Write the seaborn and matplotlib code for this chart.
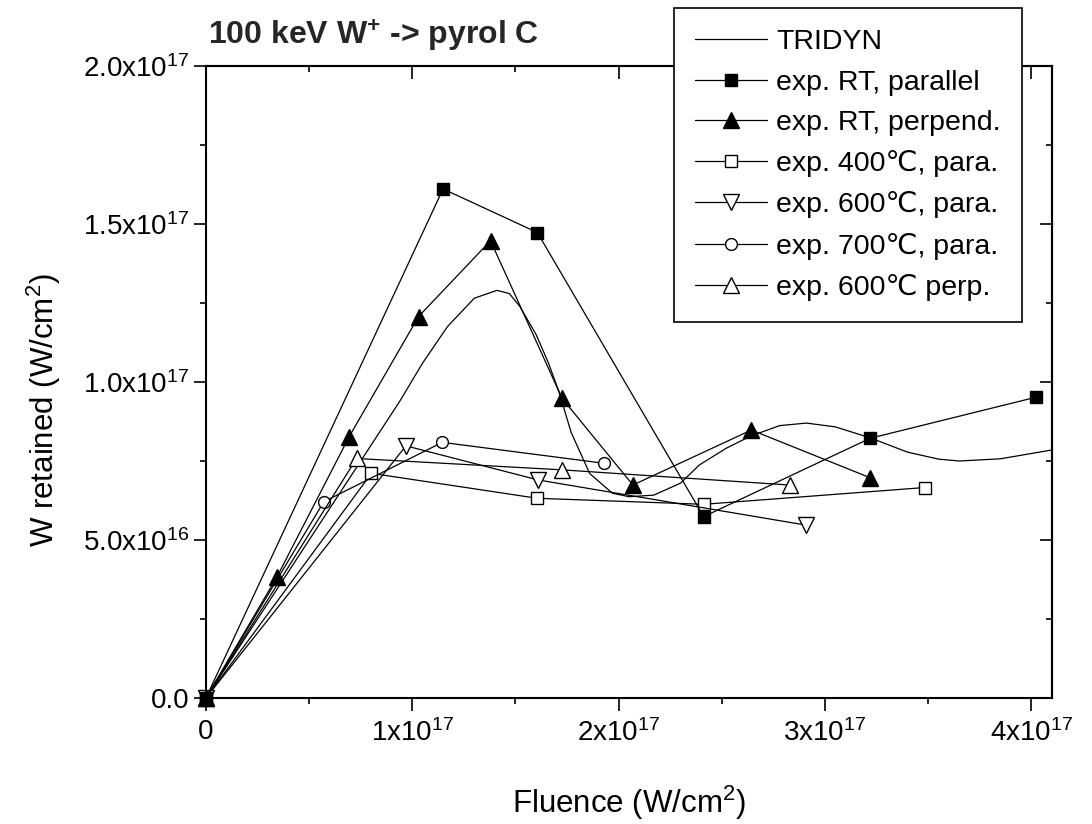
import matplotlib
matplotlib.use("Agg")
import matplotlib.pyplot as plt
import seaborn as sns
from matplotlib.ticker import MultipleLocator

sns.set_theme(style="ticks")
plt.rcParams["font.family"] = ["Liberation Sans", "DejaVu Sans"]
plt.rcParams["mathtext.fontset"] = "custom"
plt.rcParams["mathtext.rm"] = "Liberation Sans"
plt.rcParams["mathtext.bf"] = "Liberation Sans:bold"
plt.rcParams["mathtext.default"] = "regular"

# all values in units of 1e17 W/cm^2
tridyn_fluence = [0, 0.50, 0.94, 1.05, 1.17, 1.30, 1.41, 1.47, 1.52, 1.60, 1.66, 1.71,
                  1.77, 1.86, 1.97, 2.05, 2.17, 2.30, 2.39, 2.52, 2.64, 2.78, 2.91,
                  3.05, 3.22, 3.40, 3.55, 3.65, 3.85, 4.10]
tridyn_retained = [0, 0.50, 0.94, 1.06, 1.175, 1.265, 1.29, 1.28, 1.24, 1.15, 1.06, 0.97,
                   0.84, 0.71, 0.648, 0.637, 0.642, 0.68, 0.737, 0.79, 0.829, 0.862, 0.870,
                   0.858, 0.823, 0.778, 0.756, 0.750, 0.757, 0.785]

rt_par_fluence = [0, 1.149, 1.606, 2.412, 3.219, 4.023]
rt_par_retained = [0, 1.611, 1.473, 0.574, 0.822, 0.952]

rt_perp_fluence = [0, 0.344, 0.694, 1.030, 1.379, 1.726, 2.069, 2.643, 3.219]
rt_perp_retained = [0, 0.383, 0.827, 1.207, 1.447, 0.948, 0.674, 0.848, 0.697]

t400_par_fluence = [0, 0.802, 1.606, 2.412, 3.482]
t400_par_retained = [0, 0.711, 0.632, 0.613, 0.666]

t600_par_fluence = [0, 0.969, 1.610, 2.909]
t600_par_retained = [0, 0.798, 0.690, 0.547]

t700_par_fluence = [0, 0.571, 1.145, 1.927]
t700_par_retained = [0, 0.621, 0.809, 0.743]

t600_perp_fluence = [0, 0.730, 1.726, 2.828]
t600_perp_retained = [0, 0.758, 0.722, 0.674]

x_ticks = [0, 1, 2, 3, 4]
x_tick_labels = ["0", r"$1x10^{17}$", r"$2x10^{17}$", r"$3x10^{17}$", r"$4x10^{17}$"]
y_ticks = [0, 0.5, 1.0, 1.5, 2.0]
y_tick_labels = ["0.0", r"$5.0x10^{16}$", r"$1.0x10^{17}$", r"$1.5x10^{17}$", r"$2.0x10^{17}$"]

fig = plt.figure(figsize=(10.92, 8.24), dpi=100)
ax = fig.add_axes([0.1886, 0.1529, 0.7748, 0.7670])

LINE = dict(color="black", lw=0.9, markeredgecolor="black", markeredgewidth=1.0,
            clip_on=False, sort=False, estimator=None, errorbar=None, ax=ax)

sns.lineplot(x=tridyn_fluence, y=tridyn_retained, label="TRIDYN", zorder=2, **LINE)
sns.lineplot(x=rt_par_fluence, y=rt_par_retained, marker="s", markersize=8,
             markerfacecolor="black", label="exp. RT, parallel", zorder=4, **LINE)
sns.lineplot(x=rt_perp_fluence, y=rt_perp_retained, marker="^", markersize=12,
             markerfacecolor="black", label="exp. RT, perpend.", zorder=3.5, **LINE)
sns.lineplot(x=t400_par_fluence, y=t400_par_retained, marker="s", markersize=8.5,
             markerfacecolor="white", label="exp. 400\u2103, para.", zorder=3, **LINE)
sns.lineplot(x=t600_par_fluence, y=t600_par_retained, marker="v", markersize=12,
             markerfacecolor="white", label="exp. 600\u2103, para.", zorder=3, **LINE)
sns.lineplot(x=t700_par_fluence, y=t700_par_retained, marker="o", markersize=8.5,
             markerfacecolor="white", label="exp. 700\u2103, para.", zorder=3, **LINE)
sns.lineplot(x=t600_perp_fluence, y=t600_perp_retained, marker="^", markersize=12,
             markerfacecolor="white", label="exp. 600\u2103 perp.", zorder=3, **LINE)

ax.set_xlim(0, 4.1)
ax.set_ylim(0, 2.0)

ax.set_xticks(x_ticks, x_tick_labels)
ax.set_yticks(y_ticks, y_tick_labels)
ax.xaxis.set_minor_locator(MultipleLocator(0.5))
ax.yaxis.set_minor_locator(MultipleLocator(0.25))
ax.tick_params(which="both", direction="out", color="black", width=1.2,
               labelsize=20, labelcolor="black")
ax.tick_params(axis="x", which="major", length=9, pad=6)
ax.tick_params(axis="y", which="major", length=9, pad=3)
ax.tick_params(which="minor", length=4.5)
for s in ax.spines.values():
    s.set_linewidth(1.5)
    s.set_color("black")

# inward ticks on top and right
secx = ax.secondary_xaxis("top")
secx.set_xticks(x_ticks)
secx.xaxis.set_minor_locator(MultipleLocator(0.5))
secx.tick_params(which="both", direction="in", labeltop=False, color="black", width=1.2)
secx.tick_params(which="major", length=9)
secx.tick_params(which="minor", length=4.5)
secx.spines["top"].set_linewidth(1.5)
secy = ax.secondary_yaxis("right")
secy.set_yticks(y_ticks)
secy.yaxis.set_minor_locator(MultipleLocator(0.25))
secy.tick_params(which="both", direction="in", labelright=False, color="black", width=1.2)
secy.tick_params(which="major", length=9)
secy.tick_params(which="minor", length=4.5)
secy.spines["right"].set_linewidth(1.5)

ax.set_xlabel(r"Fluence (W/cm$^2$)", fontsize=22.5, color="black")
ax.set_ylabel(r"W retained (W/cm$^2$)", fontsize=22.5, color="black")
ax.xaxis.set_label_coords(0.5, -0.136)
ax.yaxis.set_label_coords(-0.169, 0.455)

fig.text(208 / 1092, 1 - 36 / 824, r"100 keV W$^{\mathbf{+}}$ -> pyrol C",
         fontsize=23, fontweight="bold", ha="left", va="center")

handles, labels = ax.get_legend_handles_labels()
if ax.get_legend() is not None:
    ax.get_legend().remove()
leg = fig.legend(handles, labels, loc="upper left",
                 bbox_to_anchor=(674 / 1092, 1 - 8 / 824), bbox_transform=fig.transFigure,
                 frameon=True, fancybox=False, edgecolor="black", framealpha=1,
                 fontsize=20.5, handlelength=2.5, handletextpad=0.35, labelspacing=0.5,
                 borderpad=0.75, borderaxespad=0)
leg.get_frame().set_linewidth(1.2)
for t in leg.get_texts():
    t.set_color("black")

fig.savefig("out.png", dpi=100)
plt.close(fig)
